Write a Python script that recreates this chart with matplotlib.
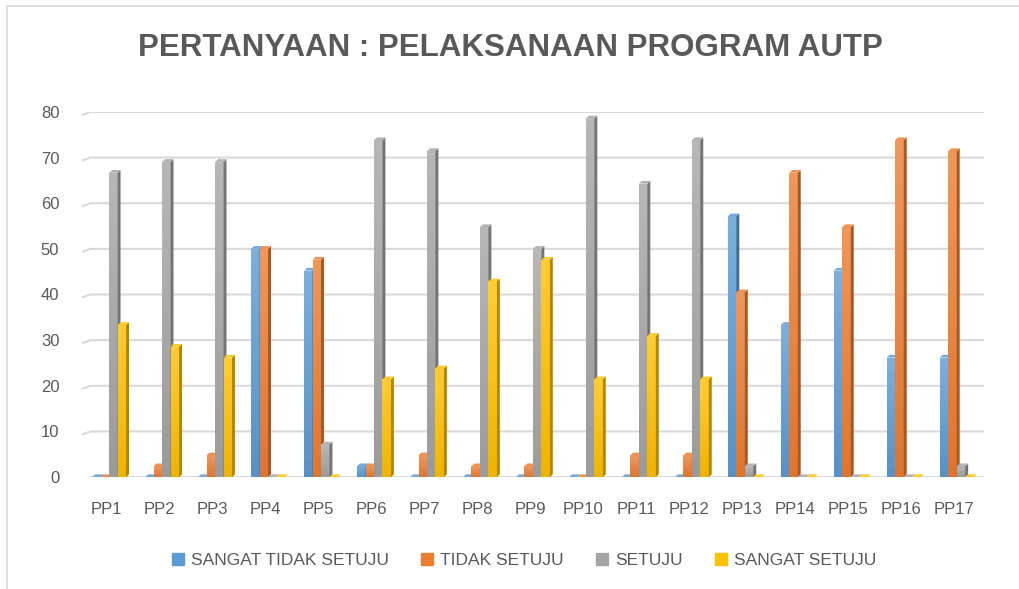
import numpy as np
import matplotlib.pyplot as plt
from matplotlib.patches import Polygon, Patch, Rectangle
from matplotlib.colors import LinearSegmentedColormap, to_rgb

plt.rcParams['font.family'] = ['Liberation Sans', 'DejaVu Sans']

categories = ['PP%d' % i for i in range(1, 18)]
series_names = ['SANGAT TIDAK SETUJU', 'TIDAK SETUJU', 'SETUJU', 'SANGAT SETUJU']
sangat_tidak_setuju = [0, 0, 0, 50, 45.24, 2.38, 0, 0, 0, 0, 0, 0, 57.14, 33.33, 45.24, 26.19, 26.19]
tidak_setuju = [0, 2.38, 4.76, 50, 47.62, 2.38, 4.76, 2.38, 2.38, 0, 4.76, 4.76, 40.48, 66.67, 54.76, 73.81, 71.43]
setuju = [66.67, 69.05, 69.05, 0, 7.14, 73.81, 71.43, 54.76, 50, 78.57, 64.29, 73.81, 2.38, 0, 0, 0, 2.38]
sangat_setuju = [33.33, 28.57, 26.19, 0, 0, 21.43, 23.81, 42.86, 47.62, 21.43, 30.95, 21.43, 0, 0, 0, 0, 0]
values = [sangat_tidak_setuju, tidak_setuju, setuju, sangat_setuju]
colors = ['#5B9BD5', '#ED7D31', '#A5A5A5', '#FFC000']


def shade(c, f):
    r = np.array(to_rgb(c))
    if f > 0:
        return tuple(r + (1 - r) * f)
    return tuple(r * (1 + f))


fig = plt.figure(figsize=(10.2, 5.89), dpi=100)
# chart area border (only top/left edges visible in the original)
fig.patches.append(Rectangle((0.007, -0.05), 1.1, 1.04, transform=fig.transFigure,
                             fill=False, ec='#D9D9D9', lw=1.2))
ax = fig.add_axes([0.080, 0.190, 0.885, 0.620])

x = np.arange(len(categories))
w = 0.16
dx, dy = 0.055, 0.6
grad = np.linspace(0, 1, 64).reshape(-1, 1)
xl, xr = -0.47, 16.57

# back-wall gridlines with the small 3D bend at the left
for v in range(0, 81, 10):
    ax.plot([xl, xl + 0.17, xr], [v - 0.7, v, v], color='#D9D9D9', lw=1.5,
            zorder=1, solid_capstyle='butt')

for i, (vals, c) in enumerate(zip(values, colors)):
    xs = x + 0.05 + (i - 1.5) * w
    bars = ax.bar(xs, vals, width=w, color=c, zorder=3 + i)
    cmap = LinearSegmentedColormap.from_list('g', [shade(c, -0.06), shade(c, 0.2)])
    for xc, v, rect in zip(xs, vals, bars):
        x0, x1 = xc - w / 2, xc + w / 2
        if v > 0:
            im = ax.imshow(grad, extent=[x0, x1, 0, v], origin='lower', aspect='auto',
                           cmap=cmap, zorder=3 + i)
            im.set_clip_path(rect)
        side = Polygon([(x1, 0), (x1 + dx, dy), (x1 + dx, v + dy), (x1, v)],
                       closed=True, color=shade(c, -0.3), lw=0, zorder=3 + i)
        top = Polygon([(x0, v), (x1, v), (x1 + dx, v + dy), (x0 + dx, v + dy)],
                      closed=True, color=shade(c, 0.15), lw=0, zorder=3 + i)
        ax.add_patch(side)
        ax.add_patch(top)

ax.set_xlim(xl, xr)
ax.set_ylim(0, 80)
ax.set_yticks(range(0, 81, 10))
ax.set_xticks(x)
ax.set_xticklabels(categories)
for s in ax.spines.values():
    s.set_visible(False)
ax.tick_params(length=0, labelsize=12, colors='#595959')
ax.tick_params(axis='x', pad=18)
ax.tick_params(axis='y', pad=16)

fig.text(0.5, 0.918, 'PERTANYAAN : PELAKSANAAN PROGRAM AUTP', ha='center', va='center',
         fontsize=22.5, fontweight='bold', color='#595959')

handles = [Patch(color=c) for c in colors]
fig.legend(handles, series_names, loc='center', bbox_to_anchor=(0.514, 0.049), ncol=4,
           frameon=False, fontsize=12.5, labelcolor='#595959', handlelength=0.7,
           handleheight=0.7, handletextpad=0.4, columnspacing=1.85)

fig.savefig('out.png', dpi=100)
